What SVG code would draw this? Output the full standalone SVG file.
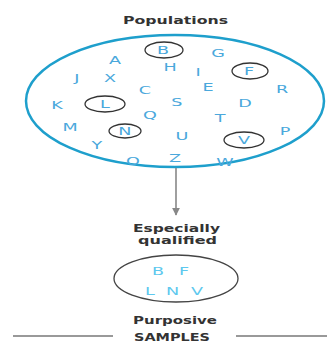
<svg xmlns="http://www.w3.org/2000/svg" width="327" height="342" viewBox="0 0 327 342">
<defs>
<style>
.lbl{font-family:"DejaVu Sans",Verdana,sans-serif;font-weight:bold;font-size:10px;fill:#333}
.ltr{font-family:"DejaVu Sans",Verdana,sans-serif;font-size:11px;fill:#4aa8dc;text-anchor:middle}
.in{font-family:"DejaVu Sans",Verdana,sans-serif;font-size:11px;fill:#5ec8ee;text-anchor:middle}
.ring{fill:none;stroke:#333;stroke-width:1.3}
</style>
<marker id="ah" viewBox="0 0 10 10" refX="9" refY="5" markerWidth="8" markerHeight="8" markerUnits="userSpaceOnUse" orient="auto">
<path d="M0,0 L10,5 L0,10 z" fill="#888"/>
</marker>
</defs>
<rect width="327" height="342" fill="#fff"/>
<g id="population">
<text class="lbl" x="123" y="24" textLength="105" lengthAdjust="spacingAndGlyphs">Populations</text>
<ellipse cx="175" cy="101" rx="149" ry="66" fill="none" stroke="#1e9fcc" stroke-width="2.5"/>
<ellipse class="ring" cx="164" cy="50" rx="19" ry="8"/>
<ellipse class="ring" cx="250" cy="71" rx="18" ry="8"/>
<ellipse class="ring" cx="105" cy="104" rx="20" ry="8"/>
<ellipse class="ring" cx="125" cy="131" rx="16" ry="7"/>
<ellipse class="ring" cx="244" cy="140" rx="20" ry="8"/>
<g transform="scale(1.6 1)">
<text class="ltr" x="101.9" y="54">B</text>
<text class="ltr" x="136.25" y="57">G</text>
<text class="ltr" x="71.9" y="64">A</text>
<text class="ltr" x="106.25" y="71">H</text>
<text class="ltr" x="123.75" y="76">I</text>
<text class="ltr" x="155.6" y="75">F</text>
<text class="ltr" x="48.1" y="82">J</text>
<text class="ltr" x="68.75" y="82">X</text>
<text class="ltr" x="90.6" y="94">C</text>
<text class="ltr" x="130" y="91">E</text>
<text class="ltr" x="176.25" y="93">R</text>
<text class="ltr" x="35.6" y="109">K</text>
<text class="ltr" x="65.6" y="108">L</text>
<text class="ltr" x="110.6" y="106">S</text>
<text class="ltr" x="153.1" y="107">D</text>
<text class="ltr" x="93.75" y="119">Q</text>
<text class="ltr" x="137.5" y="122">T</text>
<text class="ltr" x="43.75" y="131">M</text>
<text class="ltr" x="78.1" y="135">N</text>
<text class="ltr" x="113.75" y="140">U</text>
<text class="ltr" x="152.5" y="144">V</text>
<text class="ltr" x="178.1" y="135">P</text>
<text class="ltr" x="60.6" y="149">Y</text>
<text class="ltr" x="83.1" y="165">O</text>
<text class="ltr" x="109.4" y="162">Z</text>
<text class="ltr" x="140.6" y="166">W</text>
</g>
</g>
<g id="connectors">
<line x1="176" y1="168" x2="176" y2="215" stroke="#888" stroke-width="1.6" marker-end="url(#ah)"/>
</g>
<g id="sample">
<text class="lbl" x="133" y="232" textLength="87" lengthAdjust="spacingAndGlyphs">Especially</text>
<text class="lbl" x="138" y="244" textLength="79" lengthAdjust="spacingAndGlyphs">qualified</text>
<ellipse cx="176" cy="278.5" rx="62" ry="23.5" fill="none" stroke="#444" stroke-width="1.3"/>
<g transform="scale(1.6 1)">
<text class="in" x="98.75" y="275">B</text>
<text class="in" x="115" y="275">F</text>
<text class="in" x="93.75" y="295">L</text>
<text class="in" x="107.8" y="295">N</text>
<text class="in" x="123.1" y="295">V</text>
</g>
<text class="lbl" x="133" y="324" textLength="84" lengthAdjust="spacingAndGlyphs">Purposive</text>
</g>
<g id="samples-caption">
<line x1="13" y1="336" x2="113" y2="336" stroke="#777" stroke-width="1.3"/>
<line x1="236" y1="336" x2="327" y2="336" stroke="#777" stroke-width="1.3"/>
<text class="lbl" x="134" y="340.5" textLength="76" lengthAdjust="spacingAndGlyphs">SAMPLES</text>
</g>
</svg>
